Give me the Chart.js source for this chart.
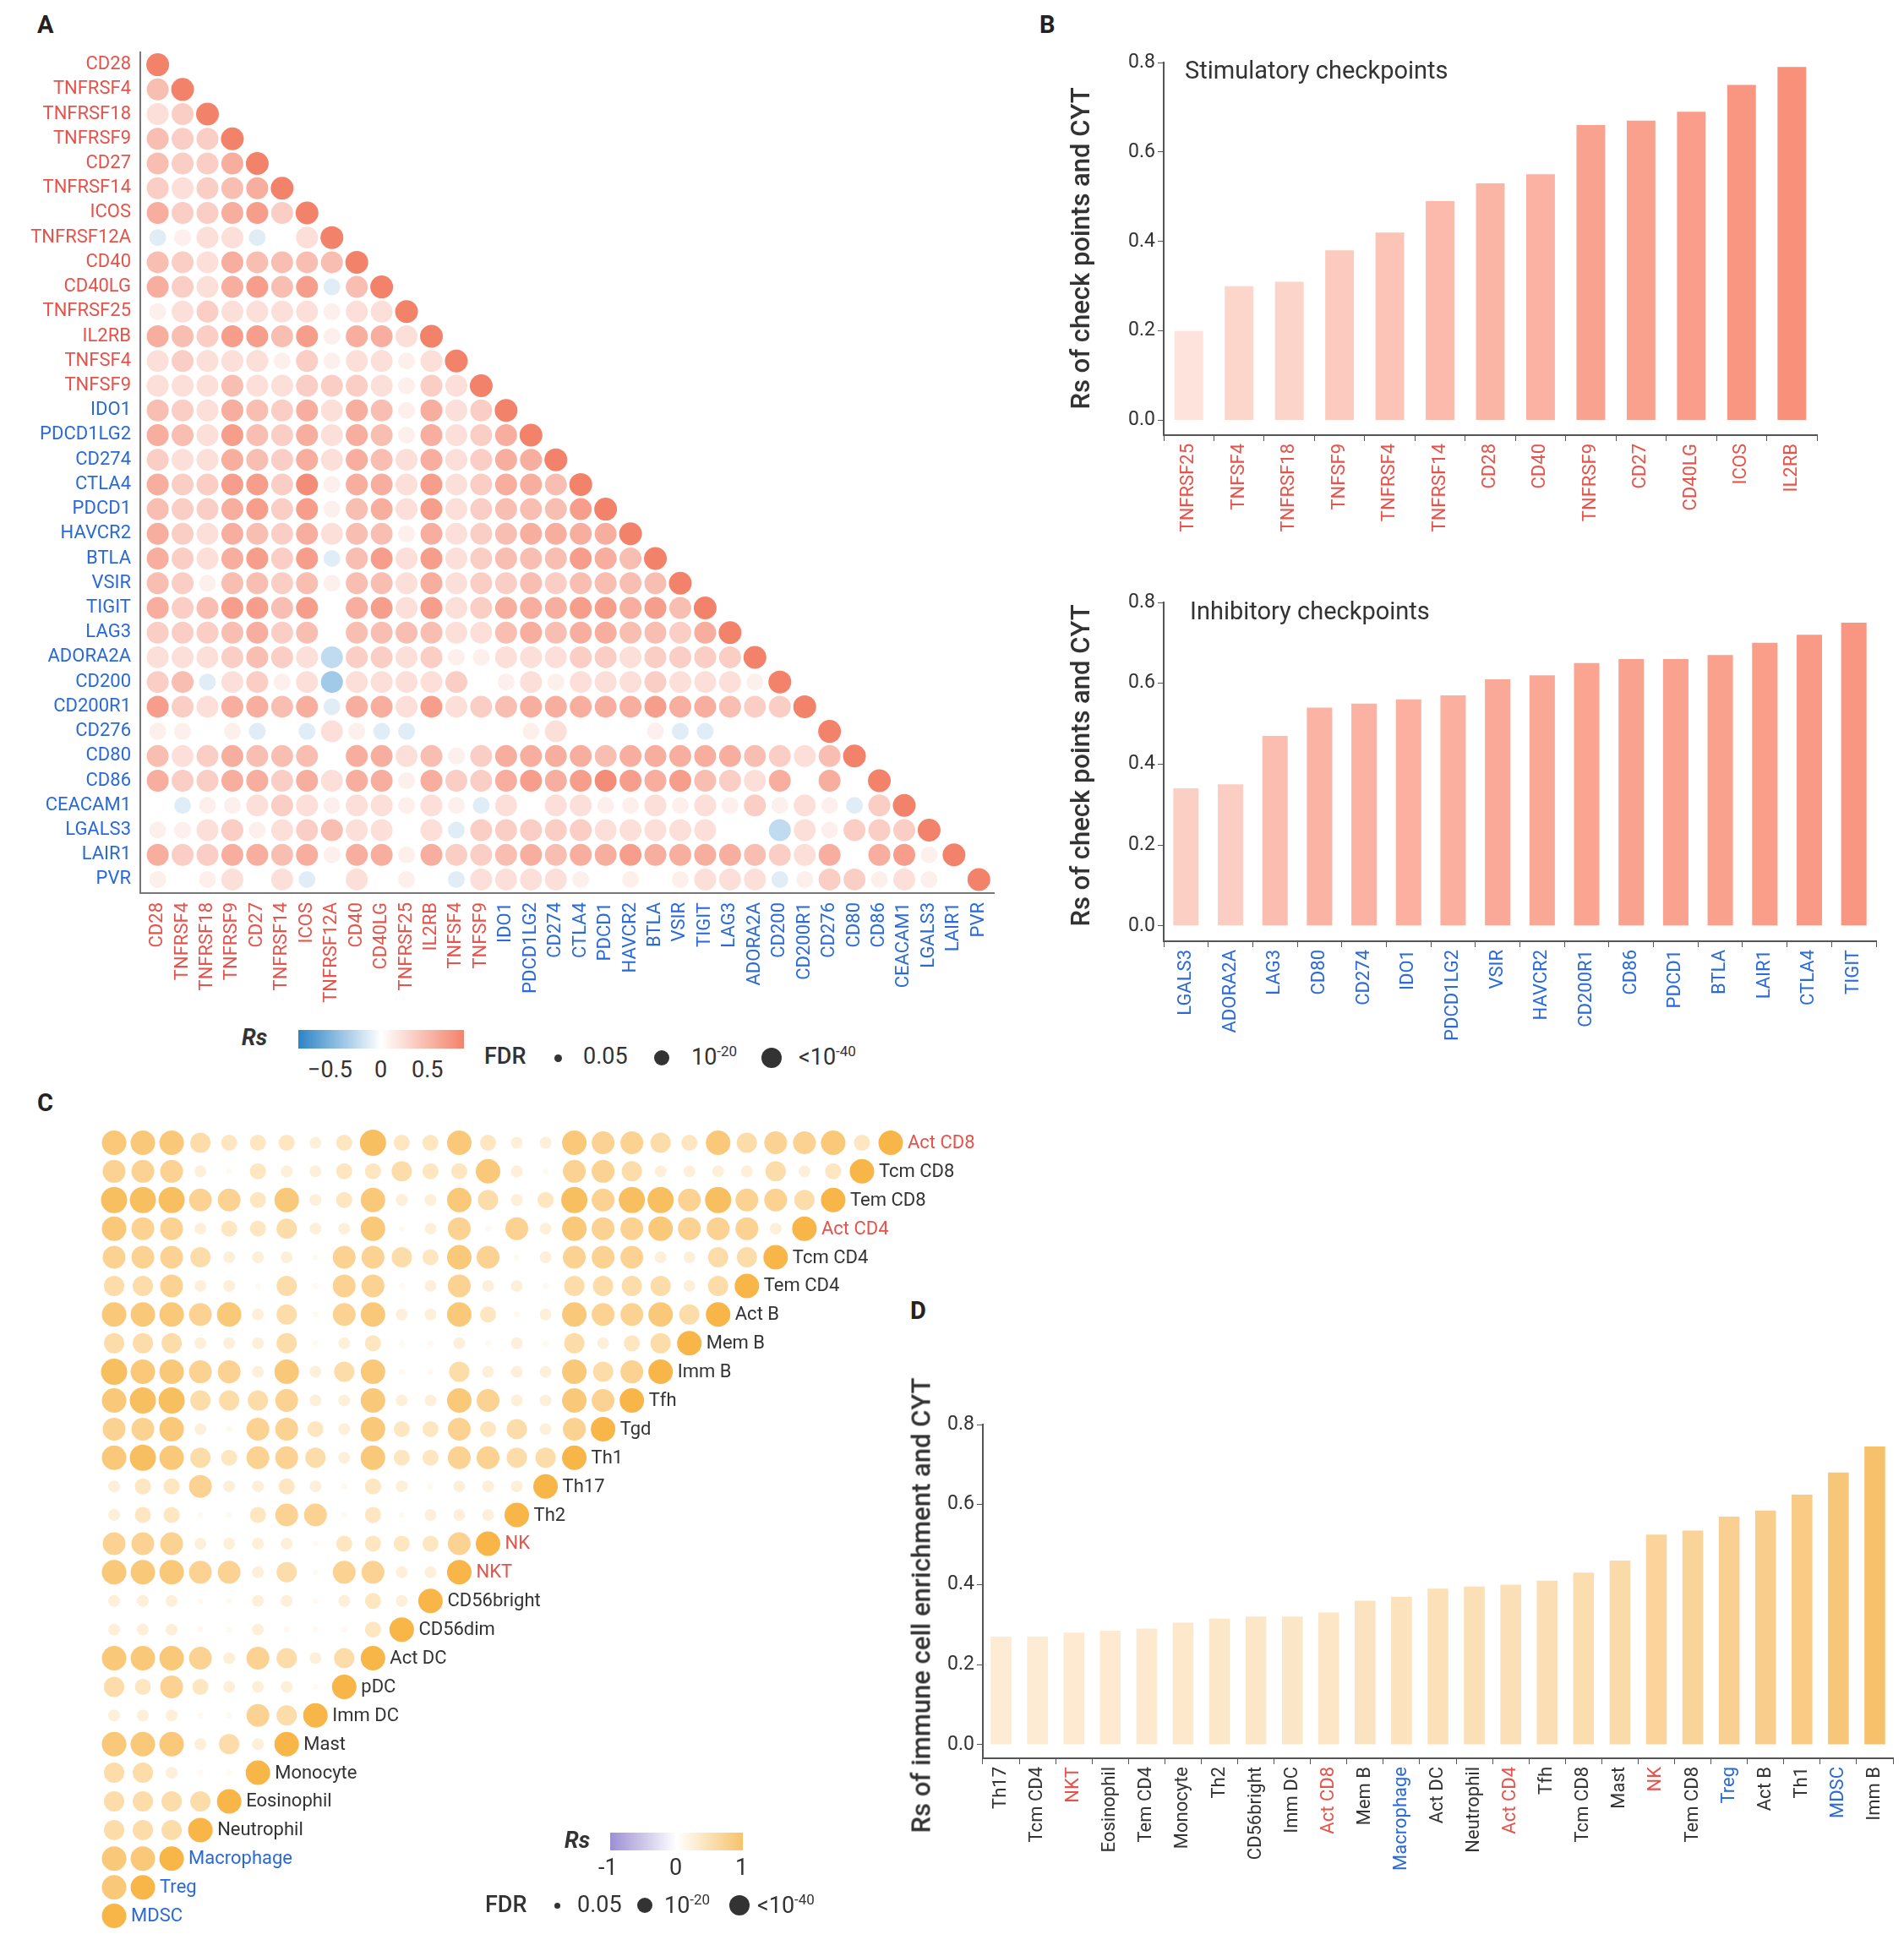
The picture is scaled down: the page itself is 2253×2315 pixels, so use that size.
<!DOCTYPE html>
<html>
<head>
<meta charset="utf-8">
<script src="https://cdn.jsdelivr.net/npm/chart.js@4.4.1/dist/chart.umd.min.js"></script>
<style>
  body { margin: 0; background: #fff; font-family: Roboto, sans-serif; color: #333; }
  #page { position: relative; width: 2253px; height: 2315px; overflow: hidden; }
  .box { position: absolute; }
  .letter { position: absolute; font-size: 29px; font-weight: 700; color: #222; }
  .ytitle { position: absolute; font-size: 31px; font-weight: 500; color: #333; white-space: nowrap;
            transform: translate(-50%, -50%) rotate(-90deg); }
  .ptitle { position: absolute; font-size: 29px; color: #333; }
  .lg { position: absolute; font-size: 27px; color: #333; white-space: nowrap; }
  .dot { position: absolute; border-radius: 50%; background: #333; }
</style>
</head>
<body>
<div id="page">
  <div class="letter" style="left:44px;top:12px">A</div>
  <div class="letter" style="left:1230px;top:12px">B</div>
  <div class="letter" style="left:44px;top:1288px">C</div>
  <div class="letter" style="left:1077px;top:1534px">D</div>

  <div class="box" style="left:10px;top:40px"><canvas id="matA" width="1180" height="1167"></canvas></div>
  <div class="box" style="left:1230px;top:50px"><canvas id="stim" width="930" height="620"></canvas></div>
  <div class="box" style="left:1230px;top:690px"><canvas id="inhib" width="1000" height="570"></canvas></div>
  <div class="box" style="left:100px;top:1320px"><canvas id="matC" width="1150" height="980"></canvas></div>
  <div class="box" style="left:1060px;top:1660px"><canvas id="cellD" width="1190" height="640"></canvas></div>

  <div class="ptitle" style="left:1402px;top:66px">Stimulatory checkpoints</div>
  <div class="ptitle" style="left:1408px;top:706px">Inhibitory checkpoints</div>
  <div class="ytitle" style="left:1278px;top:294px">Rs of check points and CYT</div>
  <div class="ytitle" style="left:1278px;top:906px">Rs of check points and CYT</div>
  <div class="ytitle" style="left:1090px;top:1900px">Rs of immune cell enrichment and CYT</div>

  <!-- legend A -->
  <div class="lg" style="left:286px;top:1212px;font-style:italic;font-weight:700">Rs</div>
  <div class="box" style="left:353px;top:1219px;width:196px;height:22px;background:linear-gradient(90deg,#2B83C6,#ffffff 50%,#F3826A)"></div>
  <div class="lg" style="left:364px;top:1250px">−0.5</div>
  <div class="lg" style="left:443px;top:1250px">0</div>
  <div class="lg" style="left:487px;top:1250px">0.5</div>
  <div class="lg" style="left:573px;top:1234px;font-weight:500">FDR</div>
  <div class="dot" style="left:656px;top:1248px;width:9px;height:9px"></div>
  <div class="lg" style="left:690px;top:1234px">0.05</div>
  <div class="dot" style="left:774px;top:1243px;width:18px;height:18px"></div>
  <div class="lg" style="left:818px;top:1234px">10<sup style="font-size:17px">-20</sup></div>
  <div class="dot" style="left:901px;top:1240px;width:24px;height:24px"></div>
  <div class="lg" style="left:945px;top:1234px">&lt;10<sup style="font-size:17px">-40</sup></div>

  <!-- legend C -->
  <div class="lg" style="left:668px;top:2162px;font-style:italic;font-weight:700">Rs</div>
  <div class="box" style="left:722px;top:2169px;width:157px;height:21px;background:linear-gradient(90deg,#9C8FD3,#ffffff 50%,#F7C26A)"></div>
  <div class="lg" style="left:708px;top:2194px">-1</div>
  <div class="lg" style="left:792px;top:2194px">0</div>
  <div class="lg" style="left:870px;top:2194px">1</div>
  <div class="lg" style="left:574px;top:2238px;font-weight:500">FDR</div>
  <div class="dot" style="left:656px;top:2252px;width:7px;height:7px"></div>
  <div class="lg" style="left:683px;top:2238px">0.05</div>
  <div class="dot" style="left:754px;top:2246px;width:18px;height:18px"></div>
  <div class="lg" style="left:786px;top:2238px">10<sup style="font-size:17px">-20</sup></div>
  <div class="dot" style="left:863px;top:2243px;width:24px;height:24px"></div>
  <div class="lg" style="left:896px;top:2238px">&lt;10<sup style="font-size:17px">-40</sup></div>
</div>

<script>
const RED = "#E5534B";
const BLUE = "#2A6AD8";
const AXIS = "#555";

// Panel A genes (first 14 stimulatory)
const GENES = ["CD28","TNFRSF4","TNFRSF18","TNFRSF9","CD27","TNFRSF14","ICOS","TNFRSF12A","CD40","CD40LG",
  "TNFRSF25","IL2RB","TNFSF4","TNFSF9","IDO1","PDCD1LG2","CD274","CTLA4","PDCD1","HAVCR2","BTLA","VSIR",
  "TIGIT","LAG3","ADORA2A","CD200","CD200R1","CD276","CD80","CD86","CEACAM1","LGALS3","LAIR1","PVR"];
const N_STIM = 14;

// Rs per row (lower triangle), digit = Rs*10, a/b/c = -0.1/-0.2/-0.3
const RS_A = [
  "",
  "4",
  "23",
  "433",
  "4335",
  "32345",
  "533563",
  "a122a02",
  "43254444",
  "5325646a4",
  "1232222122",
  "54366461552",
  "232221312212",
  "2224223332132",
  "43254352541523",
  "542643525415235",
  "3225435254252355",
  "53366371552623554",
  "433563614526234446",
  "5325435244152345555",
  "5325636a462623444654",
  "431443414425233434444",
  "5346646056262355566564",
  "33345340444422454554435",
  "2223432b3323112223323333",
  "34a2312c22223012122232221",
  "6325545a552623455555655433",
  "1101a0a21aa0000120001aa0000",
  "4235444055241355554555554324",
  "53355352551533565676564325050",
  "0a11232122121a20221121213121a3",
  "1123123422" + "02a3333322" + "22200b2133" + "3",
  "53355451551533454556555543250561",
  "101202a020" + "10a2222101" + "01222a1331" + "210"
];

// Panel C cell types, top to bottom; values are read levels (Rs*~0.12)
const CELLS = ["Act CD8","Tcm CD8","Tem CD8","Act CD4","Tcm CD4","Tem CD4","Act B","Mem B","Imm B","Tfh",
  "Tgd","Th1","Th17","Th2","NK","NKT","CD56bright","CD56dim","Act DC","pDC","Imm DC","Mast","Monocyte",
  "Eosinophil","Neutrophil","Macrophage","Treg","MDSC"];
const RED_CELLS = ["Act CD8","Act CD4","NK","NKT"];
const BLUE_CELLS = ["Macrophage","Treg","MDSC"];
const LV_C = [
  [5,5,5,3,2,2,2,1,2,6,2,2,5,2,1,1,5,4,4,3,2,5,3,4,4,5,2],
  [4,4,4,1,0,2,1,1,2,2,3,2,2,5,1,0,4,4,3,1,1,1,1,3,1,2],
  [6,6,6,4,4,2,5,1,2,5,1,1,5,3,1,2,6,4,6,6,4,6,4,4,3],
  [5,4,4,1,2,2,3,1,1,5,0,1,4,0,4,1,5,4,4,5,4,4,4,1],
  [4,4,4,3,1,1,1,0,4,4,3,2,5,4,0,1,4,4,4,1,1,3,3],
  [3,3,4,1,1,0,3,0,4,4,0,1,4,1,1,0,3,3,3,3,1,3],
  [5,5,5,4,5,1,3,0,4,5,1,1,5,2,0,1,5,4,4,5,3],
  [3,3,3,1,1,1,3,0,1,2,0,0,1,0,1,0,3,1,2,3],
  [6,5,5,4,4,1,5,1,3,5,0,0,3,1,1,1,5,3,4],
  [5,6,6,3,3,3,4,1,1,5,1,1,5,4,1,1,5,4],
  [4,4,5,1,0,4,4,2,1,5,2,2,4,2,3,1,4],
  [5,6,5,3,2,4,4,3,1,5,2,2,4,4,3,3],
  [1,2,2,4,1,1,2,1,0,2,1,0,1,1,1],
  [1,2,2,0,0,2,4,4,0,2,0,1,1,1],
  [4,4,4,1,1,1,1,0,2,2,2,2,4],
  [5,5,5,4,4,1,3,0,4,4,1,1],
  [1,1,1,0,0,1,1,0,1,2,1],
  [1,1,1,0,0,1,0,0,0,2],
  [5,5,5,4,1,4,3,1,3],
  [3,2,4,2,1,1,1,0],
  [1,1,1,0,0,4,3],
  [5,5,5,1,3,1],
  [3,3,1,0,0],
  [3,3,3,3],
  [3,3,3],
  [5,5],
  [5],
  []
];

// Panel B
const STIM_GENES = ["TNFRSF25","TNFSF4","TNFRSF18","TNFSF9","TNFRSF4","TNFRSF14","CD28","CD40","TNFRSF9","CD27","CD40LG","ICOS","IL2RB"];
const STIM_RS = [0.20,0.30,0.31,0.38,0.42,0.49,0.53,0.55,0.66,0.67,0.69,0.75,0.79];
const INHIB_GENES = ["LGALS3","ADORA2A","LAG3","CD80","CD274","IDO1","PDCD1LG2","VSIR","HAVCR2","CD200R1","CD86","PDCD1","BTLA","LAIR1","CTLA4","TIGIT"];
const INHIB_RS = [0.34,0.35,0.47,0.54,0.55,0.56,0.57,0.61,0.62,0.65,0.66,0.66,0.67,0.70,0.72,0.75];

// Panel D
const D_CELLS = ["Th17","Tcm CD4","NKT","Eosinophil","Tem CD4","Monocyte","Th2","CD56bright","Imm DC","Act CD8","Mem B",
  "Macrophage","Act DC","Neutrophil","Act CD4","Tfh","Tcm CD8","Mast","NK","Tem CD8","Treg","Act B","Th1","MDSC","Imm B"];
const D_RS = [0.27,0.27,0.28,0.285,0.29,0.305,0.315,0.32,0.32,0.33,0.36,0.37,0.39,0.395,0.40,0.41,0.43,0.46,0.525,0.535,0.57,0.585,0.625,0.68,0.745];

function hex(c) { return [1,3,5].map((i) => parseInt(c.slice(i, i + 2), 16)); }
function mix(a, b, t) {
  t = Math.max(0, Math.min(1, t));
  const A = hex(a), B = hex(b);
  return `rgb(${A.map((v, i) => Math.round(v + (B[i] - v) * t)).join(",")})`;
}
function decode(ch) {
  if (ch === "a") return -0.1;
  if (ch === "b") return -0.2;
  if (ch === "c") return -0.3;
  return Number(ch) / 10;
}
function colA(rs) { return rs >= 0 ? mix("#FFFFFF", "#F3826A", rs * 1.3) : mix("#FFFFFF", "#3B8FCF", -rs * 1.6); }
function colC(lv) { return mix("#FFF9F0", "#F7B446", lv * 0.14); }

Chart.defaults.font.family = "Roboto, sans-serif";
Chart.defaults.color = "#333";
Chart.defaults.devicePixelRatio = 1;
Chart.defaults.animation = false;

// ---- Panel A
const ptsA = [], bgA = [];
GENES.forEach((g, i) => {
  const row = RS_A[i];
  for (let j = 0; j < i; j++) {
    const rs = j < row.length ? decode(row[j]) : 0;
    const a = Math.abs(rs);
    ptsA.push({ x: j, y: i, r: a >= 0.2 ? 13 : a >= 0.1 ? 10 : 5 });
    bgA.push(colA(rs));
  }
  ptsA.push({ x: i, y: i, r: 13.5 });
  bgA.push(colA(1));
});
const geneTicks = (s) => { s.ticks = GENES.map((_, i) => ({ value: i })); };
const geneColor = (ctx) => (ctx.tick && ctx.tick.value < N_STIM ? RED : BLUE);
new Chart(document.getElementById("matA"), {
  type: "bubble",
  data: { datasets: [{ data: ptsA, backgroundColor: bgA, borderWidth: 0 }] },
  options: {
    responsive: false,
    layout: { padding: { top: 22, right: 14 } },
    plugins: { legend: { display: false }, tooltip: { enabled: false } },
    scales: {
      x: {
        type: "linear", min: -0.7, max: 33.6,
        afterBuildTicks: geneTicks, afterFit: (s) => { s.height = 150; },
        grid: { display: false }, border: { color: "#777", width: 2 },
        ticks: { autoSkip: false, minRotation: 90, maxRotation: 90, color: geneColor,
                 font: { size: 22 }, callback: (v) => GENES[v] ?? "" },
      },
      y: {
        type: "linear", min: -0.5, max: 33.55, reverse: true,
        afterBuildTicks: geneTicks, afterFit: (s) => { s.width = 156; },
        grid: { display: false }, border: { color: "#777", width: 2 },
        ticks: { autoSkip: false, color: geneColor, font: { size: 22 }, callback: (v) => GENES[v] ?? "" },
      },
    },
  },
});

// ---- Bar charts
function barChart(id, labels, values, colFn, labelColor, yw, xh, padTop, ymin) {
  new Chart(document.getElementById(id), {
    type: "bar",
    data: { labels, datasets: [{ data: values, backgroundColor: values.map(colFn),
             categoryPercentage: 1, barPercentage: 0.57 }] },
    options: {
      responsive: false,
      layout: { padding: { top: padTop, right: 10 } },
      plugins: { legend: { display: false }, tooltip: { enabled: false } },
      scales: {
        x: {
          afterFit: (s) => { s.height = xh; },
          grid: { drawOnChartArea: false, drawTicks: true, tickLength: 7, color: AXIS },
          border: { color: AXIS, width: 2 },
          ticks: { autoSkip: false, minRotation: 90, maxRotation: 90, font: { size: 22 }, color: labelColor },
        },
        y: {
          min: ymin, max: 0.8,
          afterBuildTicks: (s) => { s.ticks = [0, 0.2, 0.4, 0.6, 0.8].map((v) => ({ value: v })); },
          afterFit: (s) => { s.width = yw; },
          grid: { drawOnChartArea: false, drawTicks: true, tickLength: 7, color: AXIS },
          border: { color: AXIS, width: 2 },
          ticks: { font: { size: 23 }, color: "#333", callback: (v) => v.toFixed(1) },
        },
      },
    },
  });
}
const colB = (v) => mix("#FDE3DC", "#F9907A", (v - 0.2) / 0.59);
barChart("stim", STIM_GENES, STIM_RS, colB, RED, 147, 155, 24, -0.033);
barChart("inhib", INHIB_GENES, INHIB_RS, colB, BLUE, 147, 146, 23, -0.038);
const dColor = (ctx) => {
  const n = D_CELLS[ctx.index];
  return RED_CELLS.includes(n) ? RED : BLUE_CELLS.includes(n) ? BLUE : "#333";
};
barChart("cellD", D_CELLS, D_RS, (v) => mix("#FDEBD3", "#F7C06A", (v - 0.27) / 0.475), dColor, 103, 219, 26, -0.034);

// ---- Panel C
const ptsC = [], bgC = [];
const RC = [3.5, 7, 9.5, 12, 13.5, 14.5, 15.5];
CELLS.forEach((c, i) => {
  const diag = 27 - i;
  LV_C[i].forEach((lv, j) => {
    ptsC.push({ x: j, y: i, r: RC[lv] });
    bgC.push(colC(lv));
  });
  ptsC.push({ x: diag, y: i, r: 14.5 });
  bgC.push("#F8B548");
});
const cellLabels = {
  id: "cellLabels",
  afterDatasetsDraw(chart) {
    const { ctx, scales } = chart;
    ctx.save();
    ctx.font = "22px Roboto, sans-serif";
    ctx.textBaseline = "middle";
    CELLS.forEach((c, i) => {
      ctx.fillStyle = RED_CELLS.includes(c) ? RED : BLUE_CELLS.includes(c) ? BLUE : "#333";
      ctx.fillText(c, scales.x.getPixelForValue(27 - i) + 20, scales.y.getPixelForValue(i) + 1);
    });
    ctx.restore();
  },
};
new Chart(document.getElementById("matC"), {
  type: "bubble",
  data: { datasets: [{ data: ptsC, backgroundColor: bgC, borderWidth: 0 }] },
  options: {
    responsive: false,
    layout: { padding: { left: 18, top: 9, right: 179, bottom: 15 } },
    plugins: { legend: { display: false }, tooltip: { enabled: false } },
    scales: {
      x: { type: "linear", min: -0.5, max: 27.5, display: false },
      y: { type: "linear", min: -0.5, max: 27.5, reverse: true, display: false },
    },
  },
  plugins: [cellLabels],
});
</script>
</body>
</html>
